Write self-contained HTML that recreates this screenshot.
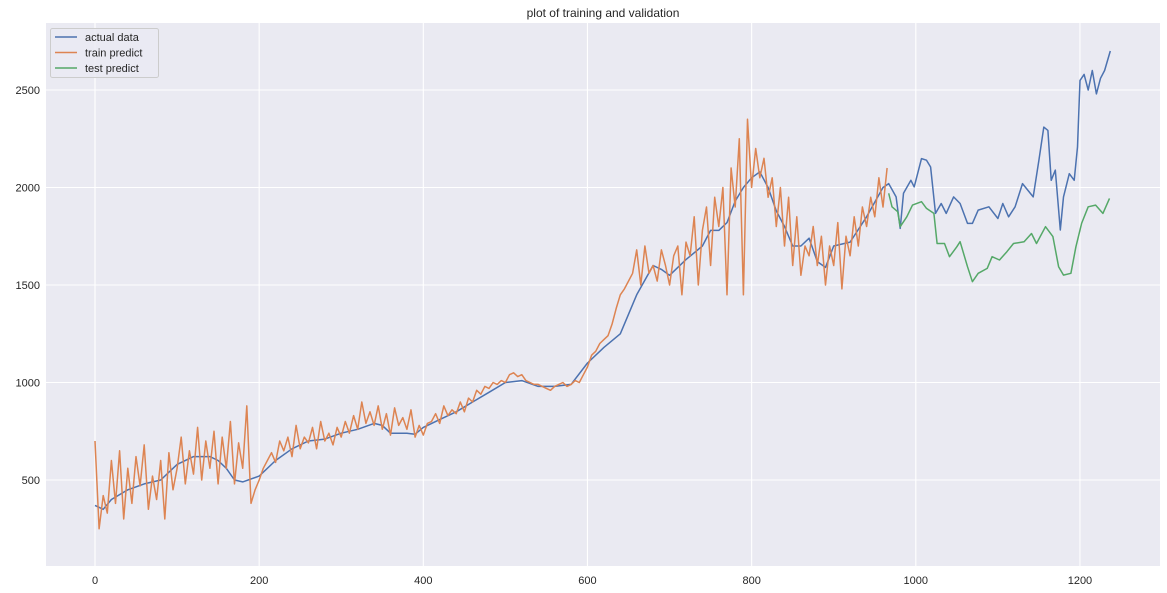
<!DOCTYPE html>
<html><head><meta charset="utf-8"><style>
body{margin:0;background:#fff;font-family:"Liberation Sans","DejaVu Sans",sans-serif}
svg{display:block}
</style></head><body>
<svg id="chart" width="1167" height="593"></svg>
<script>
const actualX=[0,10,20,40,60,80,100,120,140,150,160,170,180,200,220,240,260,280,300,320,340,350,360,380,390,400,420,440,460,480,500,520,540,560,580,600,620,640,650,660,680,690,700,720,740,750,760,770,780,790,800,810,820,830,840,850,860,870,880,890,900,920,940,960,967,976,981,985,994,998,1007,1013,1018,1024,1031,1037,1046,1054,1063,1069,1076,1089,1100,1106,1113,1121,1130,1143,1150,1156,1161,1165,1170,1176,1180,1187,1193,1197,1200,1205,1210,1215,1220,1225,1230,1237];
const actualY=[370,350,400,450,480,500,580,620,620,600,560,500,490,520,600,660,700,710,740,760,790,780,740,740,735,770,810,850,900,950,1000,1010,980,980,990,1100,1180,1250,1350,1450,1600,1580,1550,1630,1700,1780,1780,1820,1930,2000,2050,2080,2000,1880,1800,1700,1700,1740,1620,1590,1700,1720,1850,2000,2020,1952,1790,1970,2037,2003,2148,2140,2105,1867,1918,1867,1952,1918,1816,1816,1884,1901,1841,1918,1850,1901,2020,1952,2140,2310,2293,2037,2089,1782,1952,2071,2037,2208,2549,2580,2500,2600,2480,2560,2600,2700];
const trainY=[700,250,420,330,600,380,650,300,560,380,620,470,680,350,520,400,600,300,640,450,
560,720,480,650,530,770,500,700,560,750,480,720,560,800,480,690,560,880,380,450,
500,560,600,640,590,700,650,720,620,780,660,720,690,770,660,800,700,740,680,770,
720,800,740,830,760,900,790,850,780,880,760,840,730,870,780,820,760,860,720,780,
730,790,800,840,790,880,830,860,840,900,850,920,900,960,940,980,970,1000,990,1010,
1000,1040,1050,1030,1040,1010,1000,990,990,980,970,960,980,990,1000,980,990,1010,1000,1040,
1080,1140,1160,1200,1220,1240,1300,1380,1450,1480,1520,1560,1680,1500,1700,1560,1600,1520,1680,1600,
1500,1650,1700,1450,1720,1650,1850,1500,1780,1900,1600,1950,1800,2000,1450,2100,1900,2250,1450,2350,
2000,2200,2050,2150,1950,2050,1800,2000,1700,1950,1600,1850,1550,1700,1650,1800,1600,1750,1500,1700,
1600,1820,1480,1750,1650,1850,1700,1900,1800,1950,1850,2050,1900,2100];
const trainStep=5;
const testX=[967,971,978,981,989,996,1007,1013,1022,1026,1035,1041,1050,1054,1063,1069,1076,1087,1093,1102,1111,1119,1132,1141,1147,1158,1167,1174,1180,1189,1195,1202,1210,1219,1228,1236];
const testY=[1970,1901,1876,1799,1850,1910,1927,1893,1867,1713,1713,1645,1696,1722,1594,1517,1560,1585,1645,1628,1671,1713,1722,1764,1713,1799,1748,1594,1551,1560,1696,1816,1901,1910,1867,1944];
const xTicks=[0,200,400,600,800,1000,1200];
const yTicks=[500,1000,1500,2000,2500];

const NS="http://www.w3.org/2000/svg";
const svg=document.getElementById('chart');
const L=46,R=1160,T=23,B=566;
const sx=v=>95+v*0.8208;
const sy=v=>480-(v-500)*0.195;
function mk(tag,attrs,parent){const e=document.createElementNS(NS,tag);for(const k in attrs)e.setAttribute(k,attrs[k]);(parent||svg).appendChild(e);return e;}
const bg=mk('rect',{x:L,y:T,width:R-L,height:B-T,fill:'#eaeaf2'});


xTicks.forEach(t=>{
  const g=mk('line',{x1:sx(t),x2:sx(t),y1:T,y2:B,stroke:'#fff','stroke-width':1.1});
  
  
  const tx=mk('text',{x:sx(t),y:584,'text-anchor':'middle','font-size':11,fill:'#262626'});
  tx.textContent=t;
  
  
});
yTicks.forEach(t=>{
  const g=mk('line',{x1:L,x2:R,y1:sy(t),y2:sy(t),stroke:'#fff','stroke-width':1.1});
  
  
  const tx=mk('text',{x:40,y:sy(t)+4,'text-anchor':'end','font-size':11,fill:'#262626'});
  tx.textContent=t;
  
  
});
function line(xs,ys,color,name){
  const d=xs.map((x,i)=>(i?'L':'M')+sx(x).toFixed(1)+','+sy(ys[i]).toFixed(1)).join('');
  const p=mk('path',{d:d,fill:'none',stroke:color,'stroke-width':1.5,'stroke-linejoin':'round'});
  
  
}
line(actualX,actualY,'#4c72b0','actual-data-line');
line(trainY.map((v,i)=>i*trainStep),trainY,'#dd8452','train-predict-line');
line(testX,testY,'#55a868','test-predict-line');
const title=mk('text',{x:603,y:17,'text-anchor':'middle','font-size':12,fill:'#262626'});
title.textContent='plot of training and validation';


const lg=mk('g',{});


mk('rect',{x:50.5,y:28.5,width:108,height:49,rx:2,fill:'#eaeaf2',stroke:'#cccccc','fill-opacity':0.8},lg);
[['actual data','#4c72b0'],['train predict','#dd8452'],['test predict','#55a868']].forEach((e,i)=>{
  const y=37+i*15.5;
  const it=mk('g',{},lg);
  
  
  mk('line',{x1:55,x2:77,y1:y,y2:y,stroke:e[1],'stroke-width':1.5},it);
  const t=mk('text',{x:85,y:y+4,'font-size':11,fill:'#262626'},it);
  t.textContent=e[0];
});
</script>
</body></html>
